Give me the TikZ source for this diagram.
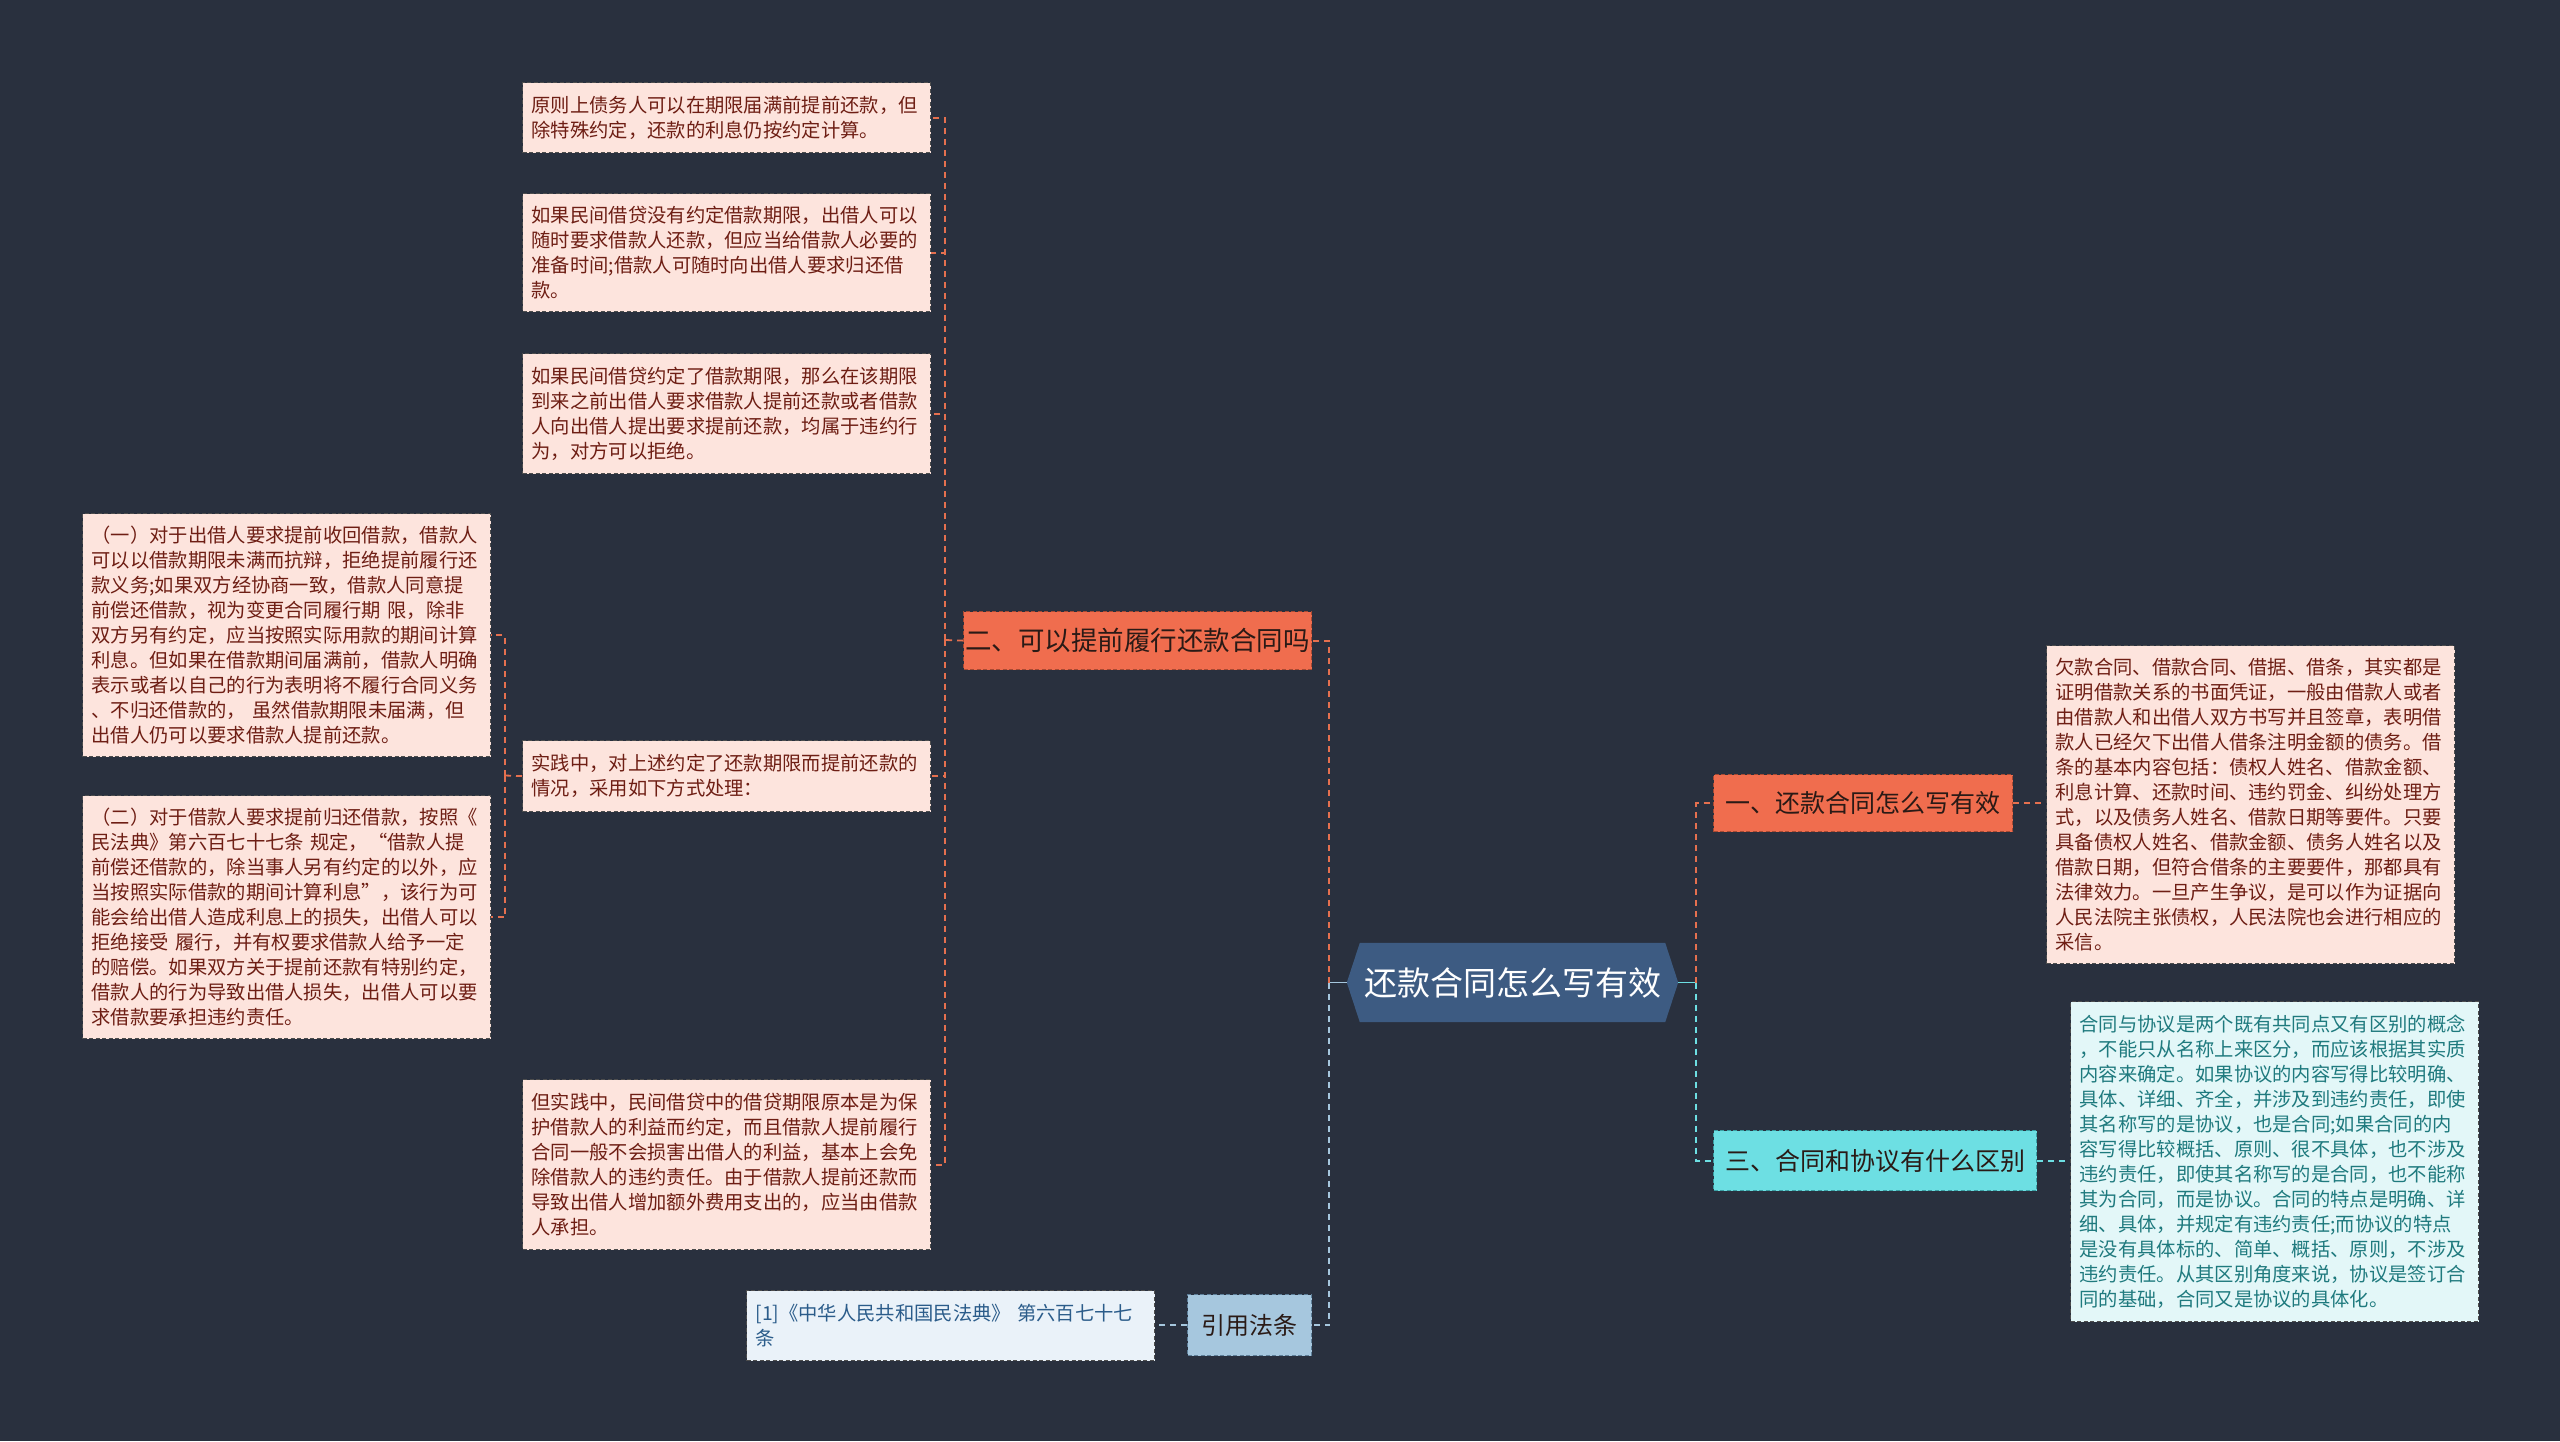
\documentclass[tikz,border=0pt]{standalone}
\usepackage{fontspec}
\newfontfamily\cjk{Noto Sans CJK SC}
\pgfdeclarelayer{bgl}
\pgfdeclarelayer{hexl}
\pgfsetlayers{bgl,hexl,main}
\definecolor{bgc}{HTML}{29303E}
\definecolor{orfill}{HTML}{F06D4E}
\definecolor{orlinec}{HTML}{E5704F}
\definecolor{orborder}{HTML}{A84A33}
\definecolor{pinkfill}{HTML}{FDE4DD}
\definecolor{redtext}{HTML}{6E1E14}
\definecolor{hexc}{HTML}{3D5B82}
\definecolor{cyanfill}{HTML}{6DDFE3}
\definecolor{cyanlinec}{HTML}{6DDFE3}
\definecolor{cyanborder}{HTML}{3A9FA3}
\definecolor{lcyanfill}{HTML}{E3F7F8}
\definecolor{tealtext}{HTML}{1F7A7E}
\definecolor{bluefill}{HTML}{A6C7DE}
\definecolor{bluelinec}{HTML}{A6C7DE}
\definecolor{blueborder}{HTML}{5E7F99}
\definecolor{lbluefill}{HTML}{EAF2F9}
\definecolor{bluetext}{HTML}{2B5C8A}
\definecolor{darktext}{HTML}{2A1A16}
\definecolor{boxborder}{HTML}{4D4D4D}
\tikzset{
  leaf/.style={draw=boxborder, line width=1.2pt, dash pattern=on 4pt off 2.5pt,
    anchor=north west, text width=390pt, inner xsep=9pt, inner ysep=0pt,
    align=left, minimum width=408pt,
    font=\cjk\fontsize{19.3pt}{25pt}\selectfont},
  orleaf/.style={leaf, fill=pinkfill, text=redtext},
  cyleaf/.style={leaf, fill=lcyanfill, text=tealtext},
  blleaf/.style={leaf, fill=lbluefill, text=bluetext},
  branchbox/.style={line width=1.2pt, dash pattern=on 4pt off 2.5pt,
    anchor=north west, inner sep=0pt, text=darktext},
  conn/.style={line width=1.8pt, dash pattern=on 6pt off 5pt},
  orconn/.style={conn, draw=orlinec},
  cyconn/.style={conn, draw=cyanlinec},
  blconn/.style={conn, draw=bluelinec},
}
\begin{document}
\begin{tikzpicture}[x=1pt,y=-1pt]
\useasboundingbox (0,0) rectangle (2560,1441);
\begin{pgfonlayer}{bgl}
\fill[bgc] (0,0) rectangle (2560,1441);
\end{pgfonlayer}

% root
\node[font=\cjk\fontsize{33pt}{40pt}\selectfont, text=white, minimum width=331pt,
  minimum height=79pt, inner sep=0pt] (root) at (1512.5,982.5) {还款合同怎么写有效};
\begin{pgfonlayer}{hexl}
\fill[hexc] (root.west) -- ([xshift=13pt]root.north west) -- ([xshift=-13pt]root.north east)
  -- (root.east) -- ([xshift=-13pt]root.south east) -- ([xshift=13pt]root.south west) -- cycle;
\end{pgfonlayer}

% branches
\node[branchbox, fill=orfill, draw=orborder, minimum width=348pt, minimum height=58pt,
  font=\cjk\fontsize{26.5pt}{30pt}\selectfont] (two) at (963,611) {二、可以提前履行还款合同吗};
\node[branchbox, fill=orfill, draw=orborder, minimum width=299pt, minimum height=57pt,
  font=\cjk\fontsize{25pt}{30pt}\selectfont] (one) at (1713,774) {一、还款合同怎么写有效};
\node[branchbox, fill=cyanfill, draw=cyanborder, minimum width=323pt, minimum height=60pt,
  font=\cjk\fontsize{25pt}{30pt}\selectfont] (three) at (1713,1130) {三、合同和协议有什么区别};
\node[branchbox, fill=bluefill, draw=blueborder, minimum width=124pt, minimum height=61pt,
  font=\cjk\fontsize{24pt}{30pt}\selectfont] (cite) at (1187,1294) {引用法条};

% leaves of branch two
\node[orleaf, minimum height=70pt] (a1) at (522,82) {原则上债务人可以在期限届满前提前还款，但\\除特殊约定，还款的利息仍按约定计算。};
\node[orleaf, minimum height=118pt] (a2) at (522,193) {如果民间借贷没有约定借款期限，出借人可以\\随时要求借款人还款，但应当给借款人必要的\\准备时间;借款人可随时向出借人要求归还借\\款。};
\node[orleaf, minimum height=120pt] (a3) at (522,353) {如果民间借贷约定了借款期限，那么在该期限\\到来之前出借人要求借款人提前还款或者借款\\人向出借人提出要求提前还款，均属于违约行\\为，对方可以拒绝。};
\node[orleaf, minimum height=71pt] (a4) at (522,740) {实践中，对上述约定了还款期限而提前还款的\\情况，采用如下方式处理：};
\node[orleaf, minimum height=170pt] (a5) at (522,1079) {但实践中，民间借贷中的借贷期限原本是为保\\护借款人的利益而约定，而且借款人提前履行\\合同一般不会损害出借人的利益，基本上会免\\除借款人的违约责任。由于借款人提前还款而\\导致出借人增加额外费用支出的，应当由借款\\人承担。};

% leaves of a4
\node[orleaf, minimum height=243pt] (b1) at (82,513) {（一）对于出借人要求提前收回借款，借款人\\可以以借款期限未满而抗辩，拒绝提前履行还\\款义务;如果双方经协商一致，借款人同意提\\前偿还借款，视为变更合同履行期~限，除非\\双方另有约定，应当按照实际用款的期间计算\\利息。但如果在借款期间届满前，借款人明确\\表示或者以自己的行为表明将不履行合同义务\\、不归还借款的，~虽然借款期限未届满，但\\出借人仍可以要求借款人提前还款。};
\node[orleaf, minimum height=243pt] (b2) at (82,795) {（二）对于借款人要求提前归还借款，按照《\\民法典》第六百七十七条~规定，“借款人提\\前偿还借款的，除当事人另有约定的以外，应\\当按照实际借款的期间计算利息”，该行为可\\能会给出借人造成利息上的损失，出借人可以\\拒绝接受~履行，并有权要求借款人给予一定\\的赔偿。如果双方关于提前还款有特别约定，\\借款人的行为导致出借人损失，出借人可以要\\求借款要承担违约责任。};

% right leaves
\node[orleaf, minimum height=318pt] (c1) at (2046,645) {欠款合同、借款合同、借据、借条，其实都是\\证明借款关系的书面凭证，一般由借款人或者\\由借款人和出借人双方书写并且签章，表明借\\款人已经欠下出借人借条注明金额的债务。借\\条的基本内容包括：债权人姓名、借款金额、\\利息计算、还款时间、违约罚金、纠纷处理方\\式，以及债务人姓名、借款日期等要件。只要\\具备债权人姓名、借款金额、债务人姓名以及\\借款日期，但符合借条的主要要件，那都具有\\法律效力。一旦产生争议，是可以作为证据向\\人民法院主张债权，人民法院也会进行相应的\\采信。};
\node[cyleaf, minimum height=320pt] (c2) at (2070,1001) {合同与协议是两个既有共同点又有区别的概念\\，不能只从名称上来区分，而应该根据其实质\\内容来确定。如果协议的内容写得比较明确、\\具体、详细、齐全，并涉及到违约责任，即使\\其名称写的是协议，也是合同;如果合同的内\\容写得比较概括、原则、很不具体，也不涉及\\违约责任，即使其名称写的是合同，也不能称\\其为合同，而是协议。合同的特点是明确、详\\细、具体，并规定有违约责任;而协议的特点\\是没有具体标的、简单、概括、原则，不涉及\\违约责任。从其区别角度来说，协议是签订合\\同的基础，合同又是协议的具体化。};
\node[blleaf, minimum height=70pt] (d1) at (746,1290) {[1]《中华人民共和国民法典》~第六百七十七\\条};

% hubs
\coordinate (hubL) at (1329,982.5);
\coordinate (hubR) at (1696,982.5);
\coordinate (hub2) at (945,640);
\coordinate (hub3) at (505,775.5);

% connectors root
\draw[line width=1.8pt, bluelinec] (root.west) -- (hubL);
\draw[line width=1.8pt, cyanlinec] (root.east) -- (hubR);
\draw[orconn] (hubL) |- (two.east);
\draw[blconn] (hubL) |- (cite.east);
\draw[orconn] (hubR) |- (one.west);
\draw[cyconn] (hubR) |- (three.west);

% branch two
\draw[orconn] (two.west) -- (hub2);
\foreach \n in {a1,a2,a3,a4,a5} { \draw[orconn] (hub2) |- (\n.east); }
% a4 children
\draw[orconn] (a4.west) -- (hub3);
\draw[orconn] (hub3) |- (b1.east);
\draw[orconn] (hub3) |- (b2.east);
% right
\draw[orconn] (one.east) -- (one.east -| c1.west);
\draw[cyconn] (three.east) -- (three.east -| c2.west);
\draw[blconn] (cite.west) -- (cite.west -| d1.east);
\end{tikzpicture}
\end{document}
